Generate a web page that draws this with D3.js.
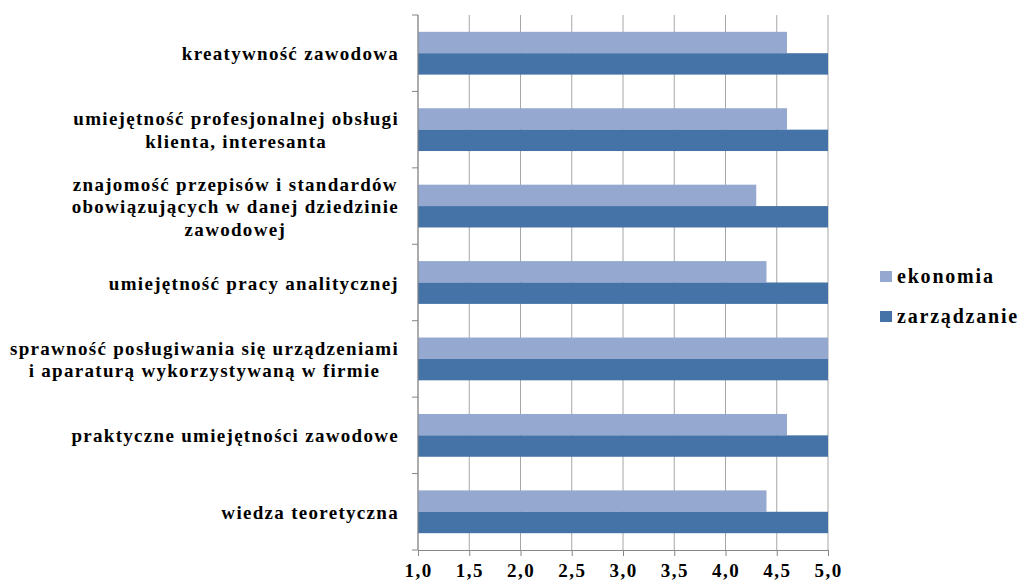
<!DOCTYPE html>
<html><head><meta charset="utf-8">
<script src="https://cdn.jsdelivr.net/npm/d3@7"></script>
<style>body{margin:0;background:#fff}svg{display:block}</style>
</head><body><svg id="c" width="1023" height="587"></svg>
<script>
const categories = [
  ["kreatywność zawodowa"],
  ["umiejętność profesjonalnej obsługi","klienta, interesanta"],
  ["znajomość przepisów i standardów","obowiązujących w danej dziedzinie","zawodowej"],
  ["umiejętność pracy analitycznej"],
  ["sprawność posługiwania się urządzeniami","i aparaturą wykorzystywaną w firmie"],
  ["praktyczne umiejętności zawodowe"],
  ["wiedza teoretyczna"]
];
const seriesNames = ["ekonomia","zarządzanie"];
const ekonomia = [4.6, 4.6, 4.3, 4.4, 5.0, 4.6, 4.4];
const zarzadzanie = [5.0, 5.0, 5.0, 5.0, 5.0, 5.0, 5.0];
const xTicks = [1.0,1.5,2.0,2.5,3.0,3.5,4.0,4.5,5.0];
const colors = ["#95a9d0","#4573a7"];
const FONT = '"Liberation Serif"';

const svg = d3.select("#c");
const pLeft = 418, pRight = 828, pTop = 15, pBottom = 550;
const x = d3.scaleLinear().domain([1,5]).range([pLeft,pRight]);
const y = d3.scaleBand().domain(d3.range(categories.length)).range([pTop,pBottom]).paddingInner(0.44).paddingOuter(0.22);
const sub = d3.scaleBand().domain([0,1]).range([0,y.bandwidth()]);

svg.append("g").selectAll("line").data(xTicks).join("line")
  .attr("x1",d=>x(d)).attr("x2",d=>x(d)).attr("y1",pTop).attr("y2",pBottom)
  .attr("stroke","#a6a6a6").attr("stroke-width",1);

const series = [ekonomia, zarzadzanie];
series.forEach((vals,si)=>{
  svg.append("g").selectAll("rect").data(vals).join("rect")
    .attr("x",x(1)).attr("y",(d,i)=>y(i)+sub(si))
    .attr("width",d=>x(d)-x(1)).attr("height",sub.bandwidth())
    .attr("fill",colors[si]);
});

const step = (pBottom-pTop)/categories.length;
svg.append("line").attr("x1",pLeft).attr("x2",pLeft).attr("y1",pTop).attr("y2",pBottom).attr("stroke","#868686");
svg.append("g").selectAll("line").data(d3.range(categories.length+1)).join("line")
  .attr("x1",pLeft-6).attr("x2",pLeft).attr("y1",i=>pTop+i*step).attr("y2",i=>pTop+i*step).attr("stroke","#868686");
const xAxis = svg.append("g").attr("transform",`translate(0,${pBottom})`)
  .call(d3.axisBottom(x).tickValues(xTicks).tickSize(6).tickFormat(d=>d3.format(".1f")(d).replace(".",",")));
xAxis.attr("font-family",FONT).attr("font-size",19).attr("font-weight","bold");
xAxis.select(".domain").attr("stroke","#868686");
xAxis.selectAll(".tick line").attr("stroke","#868686");
xAxis.selectAll("text").attr("y",27).attr("dy",null).attr("fill","#000").attr("letter-spacing",1.5);

const lh = 22.5;
categories.forEach((lines,i)=>{
  const cy = y(i)+y.bandwidth()/2;
  const g = svg.append("g");
  const t = g.append("text").attr("font-size",19).attr("text-anchor","middle")
    .attr("font-family",FONT).attr("font-weight","bold").attr("fill","#000").attr("letter-spacing",1.3);
  lines.forEach((l,j)=>t.append("tspan").attr("x",0).attr("y",cy+(j-(lines.length-1)/2)*lh+7).text(l));
  const w = t.node().getBBox().width;
  g.attr("transform",`translate(${399-w/2},0)`);
});

const lg = svg.append("g");
seriesNames.forEach((n,i)=>{
  const yy = 283 + i*40;
  lg.append("rect").attr("x",880).attr("y",yy-12).attr("width",12).attr("height",11).attr("fill",colors[i]);
  lg.append("text").attr("x",897).attr("y",yy).attr("font-size",20)
    .attr("font-family",FONT).attr("font-weight","bold").attr("fill","#000").attr("letter-spacing",1.8).text(n);
});
</script></body></html>
